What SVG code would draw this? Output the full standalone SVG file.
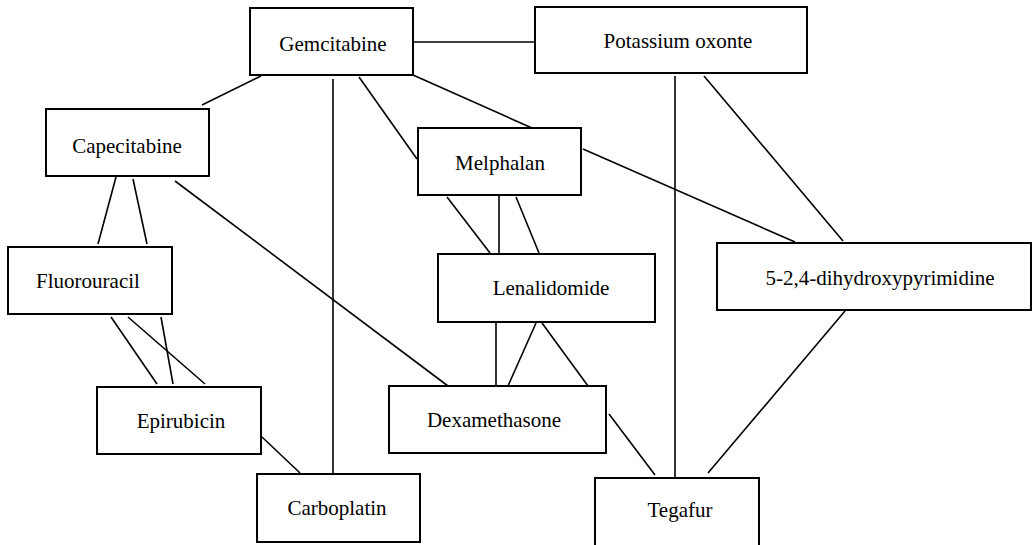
<svg xmlns="http://www.w3.org/2000/svg" width="1033" height="545" viewBox="0 0 1033 545">
<style>
.box{fill:#fff;stroke:#000;stroke-width:2}
.lbl{font-family:'Liberation Serif','Times New Roman',Tinos,'DejaVu Serif',serif;font-size:21px;fill:#000;text-anchor:middle}
#edges line{stroke:#000;stroke-width:1.6}
</style>
<rect width="1033" height="545" fill="#fff"/>
<g id="edges">
<line x1="413" y1="42" x2="535" y2="42"/>
<line x1="261" y1="76" x2="202" y2="105"/>
<line x1="359" y1="77" x2="417" y2="159"/>
<line x1="413" y1="75" x2="532" y2="128"/>
<line x1="333" y1="79" x2="333" y2="475"/>
<line x1="447" y1="197" x2="490" y2="253"/>
<line x1="499" y1="196" x2="499" y2="253"/>
<line x1="516" y1="197" x2="539" y2="253"/>
<line x1="583" y1="149" x2="795" y2="242"/>
<line x1="704" y1="76" x2="843" y2="241"/>
<line x1="675" y1="76" x2="675" y2="479"/>
<line x1="496" y1="322" x2="496" y2="386"/>
<line x1="536" y1="323" x2="508" y2="386"/>
<line x1="542" y1="323" x2="588" y2="386"/>
<line x1="175" y1="181" x2="448" y2="386"/>
<line x1="609" y1="414" x2="655" y2="475"/>
<line x1="845" y1="311" x2="708" y2="473"/>
<line x1="262" y1="437" x2="300" y2="473"/>
<line x1="116" y1="177" x2="98" y2="244"/>
<line x1="133" y1="179" x2="147" y2="244"/>
<line x1="111" y1="317" x2="157" y2="384"/>
<line x1="128" y1="317" x2="205" y2="384"/>
<line x1="161" y1="317" x2="173" y2="384"/>
</g>
<g font-family="Liberation Serif, serif">
<g id="gemcitabine"><rect class="box" x="250" y="8" width="163" height="67"/><text class="lbl" x="333" y="51">Gemcitabine</text></g>
<g id="potassium-oxonte"><rect class="box" x="535" y="7" width="272" height="66"/><text class="lbl" x="678" y="48">Potassium oxonte</text></g>
<g id="capecitabine"><rect class="box" x="46" y="109" width="163" height="67"/><text class="lbl" x="127" y="153">Capecitabine</text></g>
<g id="melphalan"><rect class="box" x="418" y="128" width="163" height="67"/><text class="lbl" x="500" y="170">Melphalan</text></g>
<g id="fluorouracil"><rect class="box" x="8" y="247" width="164" height="67"/><text class="lbl" x="88" y="288">Fluorouracil</text></g>
<g id="lenalidomide"><rect class="box" x="438" y="254" width="217" height="68"/><text class="lbl" x="551" y="295">Lenalidomide</text></g>
<g id="dihydroxypyrimidine"><rect class="box" x="717" y="243" width="314" height="67"/><text class="lbl" x="880" y="285">5-2,4-dihydroxypyrimidine</text></g>
<g id="epirubicin"><rect class="box" x="97" y="387" width="164" height="67"/><text class="lbl" x="181" y="428">Epirubicin</text></g>
<g id="dexamethasone"><rect class="box" x="389" y="386" width="217" height="67"/><text class="lbl" x="494" y="427">Dexamethasone</text></g>
<g id="carboplatin"><rect class="box" x="257" y="474" width="163" height="68"/><text class="lbl" x="337" y="515">Carboplatin</text></g>
<g id="tegafur"><rect class="box" x="595" y="478" width="164" height="72"/><text class="lbl" x="680" y="517">Tegafur</text></g>
</g>
</svg>
